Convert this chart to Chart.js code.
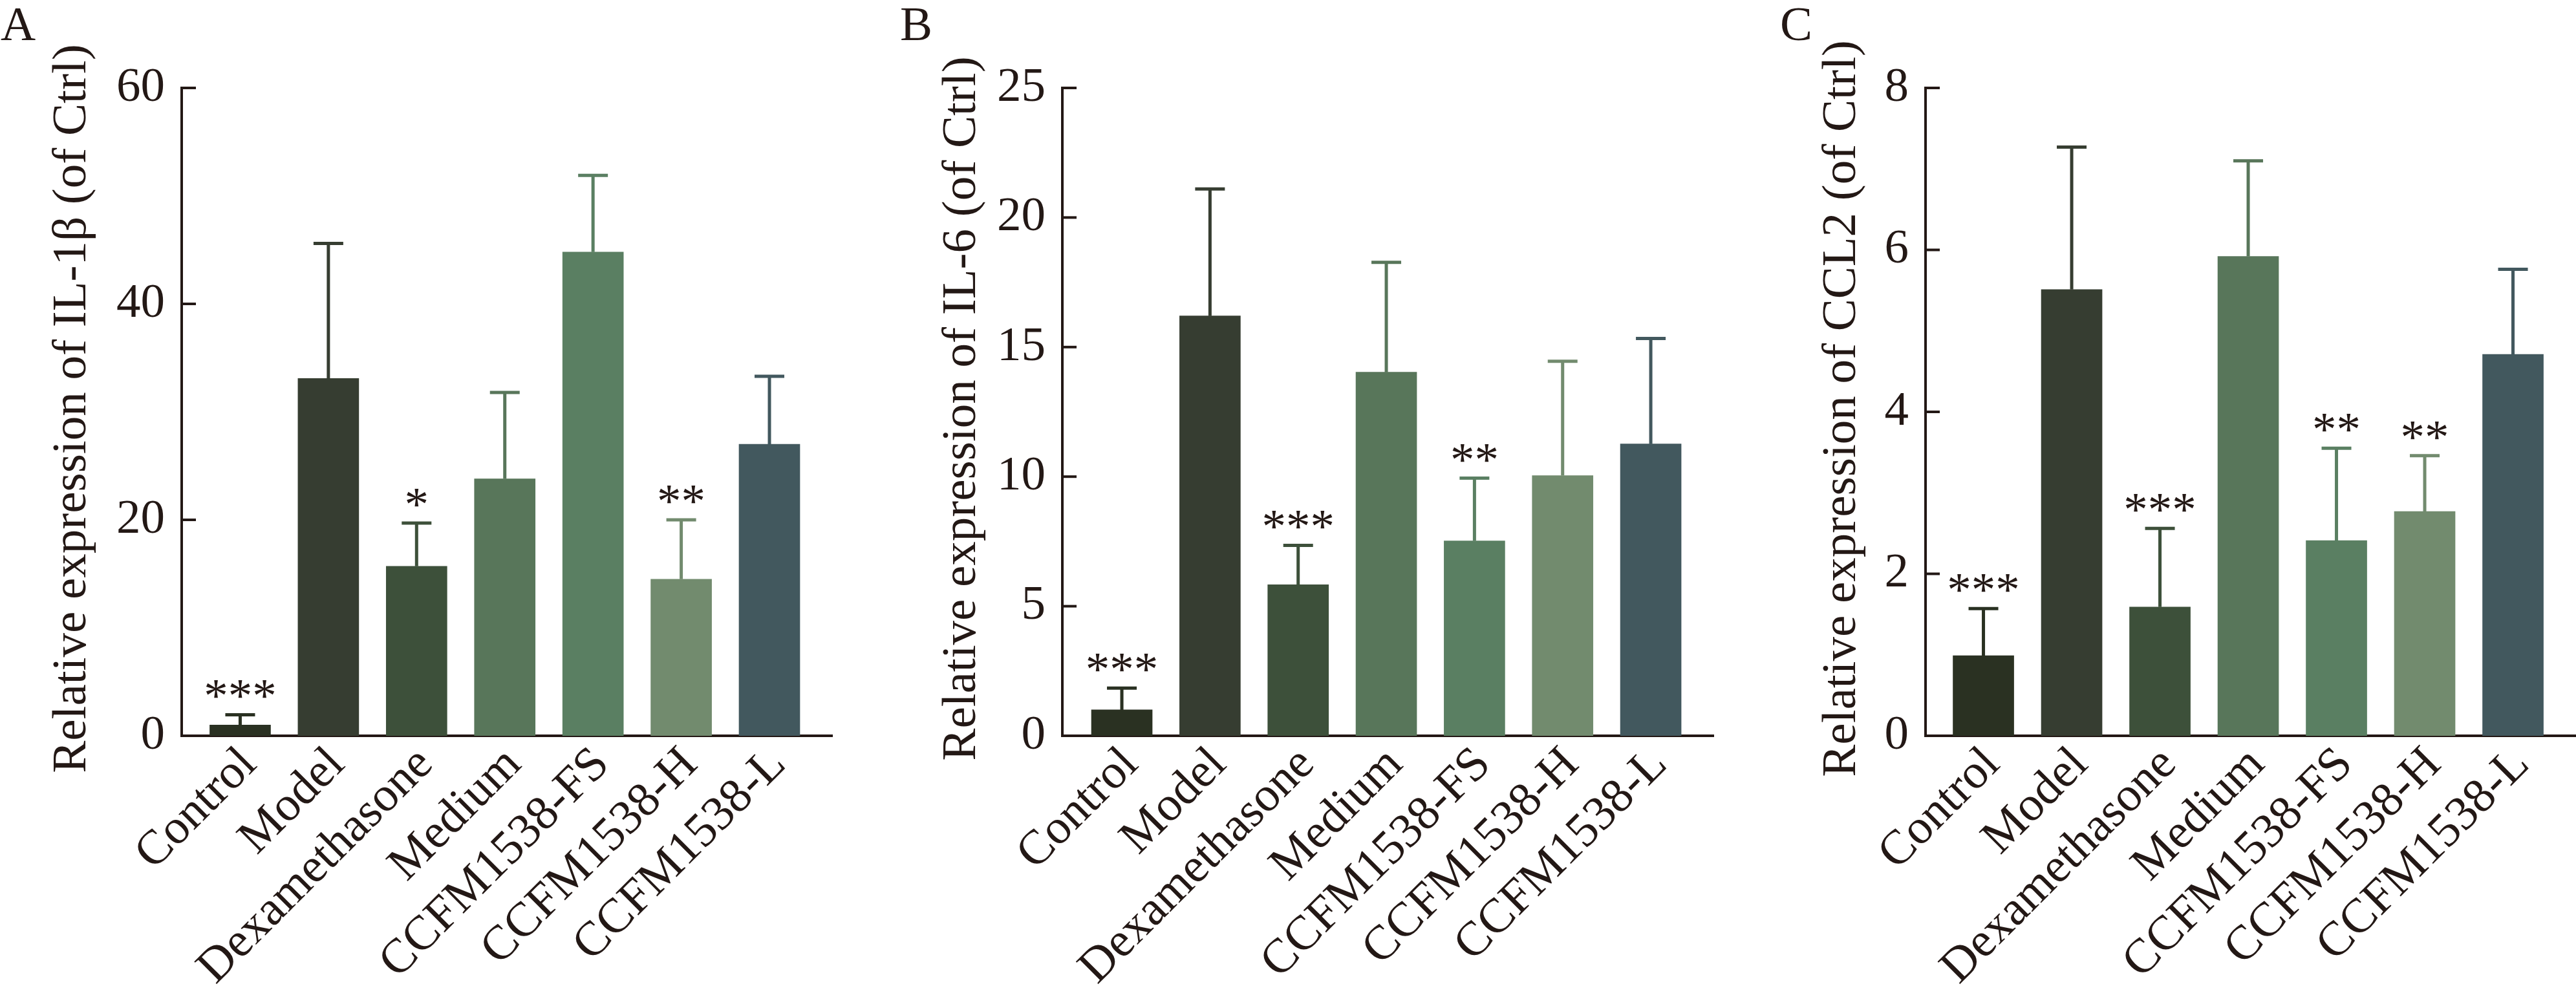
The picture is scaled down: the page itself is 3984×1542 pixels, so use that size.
<!DOCTYPE html>
<html>
<head>
<meta charset="utf-8">
<title>IL-1β, IL-6 and CCL2 expression</title>
<script src="https://cdn.jsdelivr.net/npm/chart.js@4.4.1/dist/chart.umd.min.js"></script>
<style>
  body { margin: 0; background: #fff; }
  canvas { position: absolute; top: 0; }
</style>
</head>
<body>
<canvas id="chart-a" width="1330" height="1542" style="left:0px"></canvas>
<canvas id="chart-b" width="1330" height="1542" style="left:1330px"></canvas>
<canvas id="chart-c" width="1324" height="1542" style="left:2660px"></canvas>
<script>
// Groups and bar colours (same for all three panels)
const categories = ["Control", "Model", "Dexamethasone", "Medium", "CCFM1538-FS", "CCFM1538-H", "CCFM1538-L"];
const barColors = ["#2a3122", "#363d31", "#3d503a", "#58765a", "#5a7f62", "#728b6e", "#42585e"];

// Panel A - IL-1β (mean, SD, significance)
const il1bMean = [1.0, 33.1, 15.7, 23.8, 44.8, 14.5, 27.0];
const il1bSd = [0.95, 12.5, 4.0, 8.0, 7.1, 5.5, 6.3];
const il1bSig = ["***", "", "*", "", "", "**", ""];
const il1bTicks = [0, 20, 40, 60];

// Panel B - IL-6
const il6Mean = [1.0, 16.2, 5.83, 14.03, 7.52, 10.04, 11.26];
const il6Sd = [0.84, 4.9, 1.52, 4.24, 2.42, 4.41, 4.07];
const il6Sig = ["***", "", "***", "", "**", "", ""];
const il6Ticks = [0, 5, 10, 15, 20, 25];

// Panel C - CCL2
const ccl2Mean = [0.99, 5.51, 1.59, 5.92, 2.41, 2.77, 4.71];
const ccl2Sd = [0.58, 1.76, 0.97, 1.18, 1.14, 0.69, 1.05];
const ccl2Sig = ["***", "", "***", "", "**", "**", ""];
const ccl2Ticks = [0, 2, 4, 6, 8];

const axisColor = "#231815";
const fontFamily = "'Liberation Serif', 'Times New Roman', serif";
const fontSize = 75;

// error bars, significance stars, inward y ticks, y title and the panel letter
function decorations(panel) {
  return {
    id: "decorations",
    afterDraw(chart) {
      const { ctx, chartArea } = chart;
      const y = chart.scales.y;
      const meta = chart.getDatasetMeta(0);
      ctx.save();
      ctx.lineCap = "butt";

      ctx.strokeStyle = axisColor;
      ctx.lineWidth = 4;
      panel.ticks.forEach((t) => {
        const py = y.getPixelForValue(t);
        ctx.beginPath();
        ctx.moveTo(chartArea.left, py);
        ctx.lineTo(chartArea.left + 22, py);
        ctx.stroke();
      });

      ctx.font = fontSize + "px " + fontFamily;
      meta.data.forEach((bar, i) => {
        const top = y.getPixelForValue(panel.mean[i] + panel.sd[i]);
        ctx.strokeStyle = barColors[i];
        ctx.lineWidth = 5;
        ctx.beginPath();
        ctx.moveTo(bar.x, bar.y);
        ctx.lineTo(bar.x, top);
        ctx.moveTo(bar.x - 23, top);
        ctx.lineTo(bar.x + 23, top);
        ctx.stroke();
        if (panel.sig[i]) {
          ctx.fillStyle = axisColor;
          ctx.textAlign = "center";
          ctx.textBaseline = "alphabetic";
          ctx.fillText(panel.sig[i], bar.x, top - 4);
        }
      });

      ctx.fillStyle = axisColor;
      ctx.textAlign = "left";
      ctx.textBaseline = "alphabetic";
      ctx.fillText(panel.letter, panel.letterX, 62);

      // vertical axis title, drawn without a width limit
      ctx.save();
      ctx.translate(panel.titleX, (chartArea.top + chartArea.bottom) / 2 - 5);
      ctx.rotate(-Math.PI / 2);
      ctx.textAlign = "center";
      ctx.fillText(panel.title, 0, 0);
      ctx.restore();

      ctx.restore();
    },
  };
}

function makeChart(id, panel) {
  const ctx = document.getElementById(id).getContext("2d");
  return new Chart(ctx, {
    type: "bar",
    data: {
      datasets: [
        {
          data: categories.map((c, i) => ({ x: i, y: panel.mean[i] })),
          backgroundColor: barColors,
          borderWidth: 0,
          barThickness: 94,
        },
      ],
    },
    options: {
      responsive: false,
      animation: false,
      devicePixelRatio: 1,
      layout: { padding: { top: 136, right: panel.rightPad, bottom: 0, left: 0 } },
      plugins: { legend: { display: false }, tooltip: { enabled: false } },
      scales: {
        x: {
          type: "linear",
          offset: false,
          min: panel.xMin,
          max: panel.xMax,
          afterBuildTicks: (s) => {
            s.ticks = categories.map((c, i) => ({ value: i }));
          },
          afterFit: (s) => {
            s.height = 404;
          },
          grid: { display: false, drawTicks: false, offset: false },
          border: { display: true, color: axisColor, width: 4 },
          ticks: {
            autoSkip: false,
            maxRotation: 45,
            minRotation: 45,
            padding: 1,
            labelOffset: 14,
            color: axisColor,
            font: { family: fontFamily, size: fontSize },
            callback: (v) => categories[v],
          },
        },
        y: {
          min: 0,
          max: panel.ticks[panel.ticks.length - 1],
          afterBuildTicks: (s) => {
            s.ticks = panel.ticks.map((v) => ({ value: v }));
          },
          afterFit: (s) => {
            s.width = panel.yWidth;
          },
          grid: { display: false, drawTicks: false },
          border: { display: true, color: axisColor, width: 4 },
          ticks: {
            padding: 26,
            color: axisColor,
            font: { family: fontFamily, size: fontSize },
          },
        },
      },
    },
    plugins: [decorations(panel)],
  });
}

makeChart("chart-a", {
  letter: "A", letterX: 1, title: "Relative expression of IL-1β (of Ctrl)", titleX: 132,
  mean: il1bMean, sd: il1bSd, sig: il1bSig, ticks: il1bTicks,
  yWidth: 281, rightPad: 43, xMin: -0.663, xMax: 6.711,
});
makeChart("chart-b", {
  letter: "B", letterX: 62, title: "Relative expression of IL-6 (of Ctrl)", titleX: 178,
  mean: il6Mean, sd: il6Sd, sig: il6Sig, ticks: il6Ticks,
  yWidth: 313, rightPad: 10, xMin: -0.675, xMax: 6.711,
});
makeChart("chart-c", {
  letter: "C", letterX: 93, title: "Relative expression of CCL2 (of Ctrl)", titleX: 209,
  mean: ccl2Mean, sd: ccl2Sd, sig: ccl2Sig, ticks: ccl2Ticks,
  yWidth: 318, rightPad: 0, xMin: -0.656, xMax: 6.714,
});
</script>
</body>
</html>
